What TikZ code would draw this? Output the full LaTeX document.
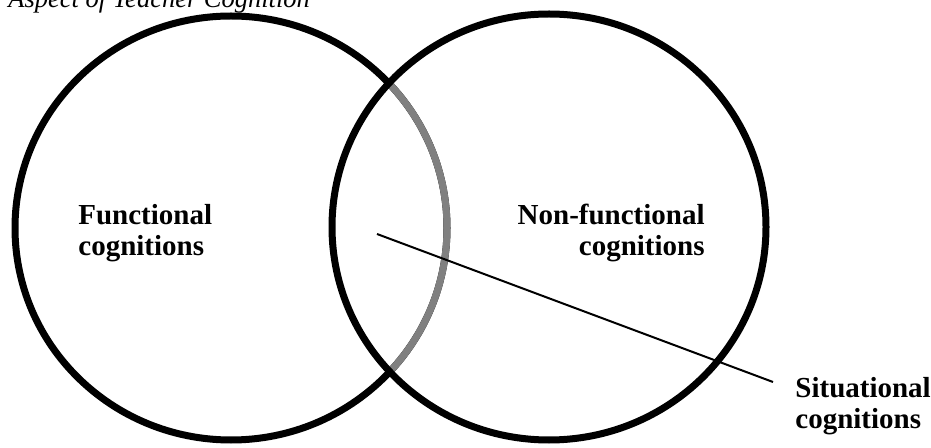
\documentclass[tikz,border=0pt]{standalone}
\usepackage{fontspec}
\setmainfont{Liberation Serif}
\tikzset{
  ring/.style={line width=3.5pt},
  label/.style={font=\bfseries\fontsize{14.5}{15.5}\selectfont,inner sep=0pt},
}
\begin{document}
\begin{tikzpicture}[x=0.5pt,y=-0.5pt,line join=round]
  \useasboundingbox (0,0) rectangle (931,448);
  \node[anchor=base west,inner sep=0pt,font=\itshape\fontsize{13.25}{15}\selectfont] (title) at (8,8) {Aspect of Teacher Cognition};

  % the two circles, overlap of the left one in grey
  \draw[ring] (231,228) ellipse [x radius=216, y radius=212];
  \begin{scope}
    \clip (549,227) ellipse [x radius=217, y radius=213];
    \draw[ring,color=gray] (231,228) ellipse [x radius=216, y radius=212];
  \end{scope}
  \draw[ring] (549,227) ellipse [x radius=217, y radius=213];

  \node[label,anchor=north west,align=left] (func) at (78,204) {Functional\\cognitions};
  \node[label,anchor=north east,align=right] (nonfunc) at (705,204) {Non-functional\\cognitions};
  \node[label,anchor=north west,align=left] (sit) at (795,377) {Situational\\cognitions};

  \coordinate (overlap) at (377,234);
  \coordinate (sitend) at (773,382);
  \draw[line width=1pt] (overlap) -- (sitend);
\end{tikzpicture}
\end{document}
